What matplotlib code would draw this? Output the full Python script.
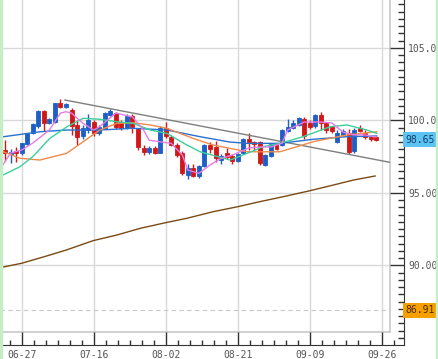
import matplotlib
matplotlib.use("Agg")
import matplotlib.pyplot as plt
from matplotlib.patches import Rectangle
import numpy as np

# ---------------- data ----------------
tick_pos = [4, 17, 30, 43, 56, 69]
tick_labels = ['06-27', '07-16', '08-02', '08-21', '09-09', '09-26']

opens = [98.0, 97.94, 97.68, 97.85, 97.72, 98.37, 99.15, 99.6, 100.64, 99.79,
         99.9, 101.21, 100.94, 100.71, 99.65, 98.95, 99.33, 99.86, 99.1, 99.5,
         100.37, 100.48, 99.85, 99.45, 100.3, 99.4, 98.07, 97.83, 98.07, 97.77,
         99.5, 98.87, 98.3, 97.72, 96.23, 96.69, 96.16, 96.87, 98.3, 98.14,
         97.26, 97.77, 97.56, 97.19, 97.72, 98.69, 98.52, 98.48, 96.92, 97.54,
         98.34, 98.3, 99.28, 99.45, 99.68, 100.1, 99.83, 99.6, 100.37, 99.79,
         99.52, 98.52, 98.99, 99.1, 97.9, 99.45, 99.15, 98.83, 98.83]
highs = [98.6, 98.64, 98.0, 98.14, 98.46, 99.15, 99.8, 100.7, 100.71, 100.14,
         101.22, 101.45, 101.22, 100.83, 100.0, 99.7, 100.45, 100.0, 99.7, 100.6,
         100.8, 100.55, 100.0, 100.45, 100.45, 99.5, 98.3, 98.25, 98.25, 99.6,
         99.9, 99.0, 98.4, 97.85, 96.98, 96.98, 96.9, 98.35, 98.5, 98.6,
         97.7, 98.1, 97.65, 97.75, 98.75, 99.1, 98.6, 98.6, 97.65, 98.45,
         98.45, 99.4, 100.1, 100.0, 100.25, 100.2, 100.0, 100.45, 100.6, 99.9,
         99.6, 99.3, 99.4, 99.4, 99.5, 99.7, 99.3, 98.9, 98.95]
lows = [97.25, 97.21, 97.03, 97.14, 97.61, 98.3, 99.05, 99.5, 99.27, 99.72,
        99.8, 100.87, 100.85, 99.0, 98.3, 98.7, 99.1, 98.9, 99.0, 99.4,
        100.3, 99.4, 99.3, 99.4, 99.1, 97.95, 97.6, 97.65, 97.7, 97.72,
        98.76, 98.2, 97.5, 96.2, 95.98, 96.1, 96.0, 96.8, 97.75, 97.14,
        97.0, 97.3, 96.96, 97.1, 97.65, 97.95, 97.95, 96.95, 96.85, 97.5,
        97.95, 98.2, 99.2, 99.4, 99.6, 98.7, 99.4, 99.5, 99.33, 99.1,
        99.15, 98.4, 98.9, 97.7, 97.75, 99.2, 98.7, 98.55, 98.55]
closes = [97.75, 97.72, 97.83, 97.72, 98.41, 99.1, 99.72, 100.64, 99.79, 100.07,
          101.17, 100.94, 101.12, 99.6, 98.87, 99.5, 100.0, 99.1, 99.56, 100.48,
          100.66, 99.56, 99.45, 100.3, 99.56, 98.18, 97.83, 98.07, 97.77, 99.5,
          98.95, 98.3, 97.6, 96.34, 96.69, 96.16, 96.85, 98.3, 98.0, 97.38,
          97.56, 97.49, 97.19, 97.65, 98.69, 98.52, 98.37, 97.03, 97.61, 98.34,
          98.0, 99.33, 99.56, 99.79, 100.14, 98.9, 99.56, 100.37, 99.79, 99.33,
          99.28, 99.1, 99.28, 97.83, 99.33, 99.28, 98.87, 98.69, 98.65]

ma_pink_x = [0, 2, 4, 6, 9, 11, 12, 13, 15, 17, 18, 21, 24, 26, 27, 31, 33, 34,
             36, 38, 40, 42, 45, 47, 49, 51, 52, 55, 58, 60, 62, 64, 66, 68]
ma_pink_y = [96.57, 97.74, 97.95, 98.43, 99.33, 100.5, 100.59, 100.5, 99.81, 99.33,
             99.54, 100.5, 100.23, 99.33, 98.63, 98.41, 97.61, 96.57, 96.34, 96.92,
             97.38, 97.6, 98.09, 98.16, 98.16, 98.43, 99.33, 99.88, 99.88, 99.81,
             99.19, 98.99, 98.99, 98.85]
ma_green_x = [0, 3.7, 6, 9.1, 12.2, 15.1, 18.1, 21.2, 24.1, 27.2, 30.2, 33.8, 36.2,
              41.6, 44.7, 47.6, 50.6, 54.8, 59.7, 62.7, 66.3, 68.1]
ma_green_y = [96.11, 96.8, 97.49, 98.76, 99.56, 100.14, 100.07, 99.9, 99.79, 99.33,
              99.1, 98.3, 97.83, 97.26, 97.72, 98.18, 98.41, 98.87, 99.56, 99.68,
              99.33, 99.1]
ma_orange_x = [0, 3.7, 7.3, 12.1, 15.1, 18.1, 21.2, 24.1, 27.2, 30.2, 34.9, 38.5,
               44.7, 50.6, 53.7, 56.6, 62.7, 68.1]
ma_orange_y = [97.94, 97.38, 97.26, 97.72, 98.52, 99.33, 99.79, 99.83, 99.68, 99.45,
               98.76, 98.3, 97.83, 97.83, 98.18, 98.52, 98.99, 99.21]
ma_blue_x = [0, 7.3, 12.1, 18.1, 24.1, 30.2, 36.2, 41.6, 44.7, 50.6, 56.6, 62.7, 68.1]
ma_blue_y = [98.83, 99.21, 99.33, 99.33, 99.45, 99.33, 98.87, 98.5, 98.41, 98.41,
             98.69, 98.87, 98.92]
ma_brown_x = [0.4, 4, 9.1, 12.1, 16.9, 21.2, 25.4, 30, 33.8, 38.6, 43, 47, 51.2,
              56, 60.3, 63.9, 67.8]
ma_brown_y = [89.86, 90.14, 90.71, 91.06, 91.70, 92.09, 92.55, 92.94, 93.24, 93.70,
              94.04, 94.39, 94.73, 95.14, 95.54, 95.88, 96.16]
trend_x = [11.8, 70.5]
trend_y = [101.4, 97.1]

last_price = 98.65
low_mark = 86.91

# ---------------- layout ----------------
W, H = 438, 359
fig = plt.figure(figsize=(W / 100, H / 100), dpi=100)
fig.patch.set_facecolor('white')

px = 5.54          # pixels per candle
x0off = -0.5       # pixel of candle 0
def ix(p):         # pixel -> index
    return (p - x0off) / px
ppu = 14.5         # pixels per price unit
def pv(p):         # pixel row -> price
    return 100 - (p - 120.3) / ppu

# inner plot area (candles, lines)
ax = fig.add_axes([0, (H - 332) / H, 390 / W, 332 / H])
ax.set_facecolor('none')
for s in ax.spines.values():
    s.set_visible(False)
ax.set_xticks([])
ax.set_yticks([])

grid_c = '#d9d9d9'
for v in [90, 95, 100, 105]:
    ax.axhline(v, color=grid_c, lw=1, zorder=0)
for t in tick_pos:
    ax.axvline(t, color=grid_c, lw=1, zorder=0)
ax.axhline(low_mark, color='#c8c8c8', lw=0.8, ls=(0, (4, 3)), zorder=0)

# candles
o = np.array(opens); h = np.array(highs); l = np.array(lows); c = np.array(closes)
idx = np.arange(len(o))
up = c >= o
col = np.where(up, '#1d5fc6', '#d01818')
ax.vlines(idx, l, h, colors=col, lw=1, zorder=2)
bot = np.minimum(o, c)
hgt = np.maximum(np.abs(c - o), 0.05)
ax.bar(idx, hgt, bottom=bot, width=0.72, color=col, edgecolor=col, lw=0.6, zorder=3)

# lines
ax.plot(ma_brown_x, ma_brown_y, color='#7a4a14', lw=1, zorder=4)
ax.plot(trend_x, trend_y, color='#7f7f7f', lw=1, zorder=4)
ax.plot(ma_blue_x, ma_blue_y, color='#2a6fcf', lw=1, zorder=4)
ax.plot(ma_orange_x, ma_orange_y, color='#f08a4b', lw=1, zorder=4)
ax.plot(ma_green_x, ma_green_y, color='#3ccf9a', lw=1, zorder=4)
ax.plot(ma_pink_x, ma_pink_y, color='#e47de4', lw=1, zorder=4)

ax.set_xlim(ix(0), ix(390))
ax.set_ylim(pv(332), pv(0))

# inner box border
ax.plot([ix(389.5)] * 2, [pv(332), pv(0)], color='#c8c8c8', lw=1.2, clip_on=False)
ax.plot([ix(0), ix(390)], [pv(331.5)] * 2, color='#c8c8c8', lw=1.2, clip_on=False)

# outer axis (ticks)
ax2 = fig.add_axes([0, (H - 345) / H, 404 / W, 345 / H])
ax2.patch.set_visible(False)
ax2.spines['top'].set_visible(False)
ax2.spines['left'].set_visible(False)
ax2.spines['right'].set_color('#333333')
ax2.spines['bottom'].set_color('#333333')
ax2.yaxis.tick_right()
ax2.set_yticks([90, 95, 100, 105])
ax2.set_yticklabels(['90.00', '95.00', '100.00', '105.00'])
ax2.set_yticks(np.arange(85, 108.5, 0.5), minor=True)
ax2.set_xticks(tick_pos)
ax2.set_xticklabels(tick_labels)
x_lo, x_hi = ix(0), ix(404)
minor_x = []
for m in [tick_pos[0] - 13] + tick_pos:
    for k in range(1, 6):
        v = m + k * 13 / 6
        if x_lo < v < x_hi:
            minor_x.append(v)
ax2.set_xticks(minor_x, minor=True)
ax2.set_xlim(x_lo, x_hi)
ax2.set_ylim(pv(345), pv(0))

ax2.tick_params(axis='y', which='major', direction='in', length=10, width=1,
                color='#333333', labelcolor='#555555', pad=3, labelsize=7)
ax2.tick_params(axis='y', which='minor', direction='in', length=4.3, width=1,
                color='#333333')
ax2.tick_params(axis='x', which='major', direction='in', length=9.4, width=1,
                color='#333333', labelcolor='#555555', pad=3.5, labelsize=7)
ax2.tick_params(axis='x', which='minor', direction='in', length=3.6, width=1,
                color='#333333')
for t in ax2.get_xticklabels() + ax2.get_yticklabels():
    t.set_fontfamily('DejaVu Sans Mono')

# price labels
def price_box(val, face, txtc):
    ax2.text(x_hi + 0.25, val, f'{val:.2f}', ha='left', va='center',
             fontsize=7, family='DejaVu Sans Mono', color=txtc, clip_on=False,
             bbox=dict(boxstyle='square,pad=0.25', fc=face, ec='none'), zorder=10)
price_box(last_price, '#5cc4f2', '#1a3d6b')
price_box(low_mark, '#f5a000', '#4a2a00')

# side borders
fig.patches.append(Rectangle((0, 0), 1.5 / W, 1, transform=fig.transFigure,
                             color='#c6eec6', zorder=20))
fig.patches.append(Rectangle((436 / W, 0), 2 / W, 1, transform=fig.transFigure,
                             color='#c6eec6', zorder=20))

fig.savefig('out.png', dpi=100)
